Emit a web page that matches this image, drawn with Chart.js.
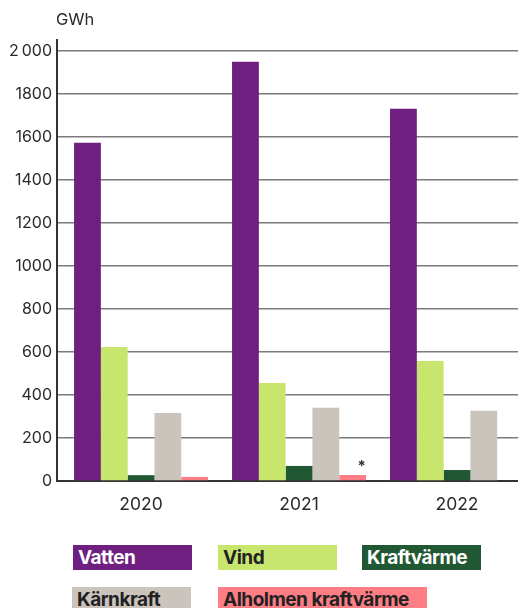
<!DOCTYPE html>
<html>
<head>
<meta charset="utf-8">
<script src="https://cdn.jsdelivr.net/npm/chart.js@4/dist/chart.umd.min.js"></script>
<style>
  html, body { margin:0; padding:0; background:#fff; width:518px; height:608px; overflow:hidden; }
  #wrap { position:absolute; left:0; top:0; width:518px; height:520px; }
  #unit { position:absolute; left:56px; top:9px; font:16.5px Inter, sans-serif; color:#2a2a2a; }
  .lg { position:absolute; height:25px; font:700 19px Inter, sans-serif; letter-spacing:-0.5px; line-height:25px; padding-left:5px; box-sizing:border-box; white-space:nowrap; overflow:hidden; }
</style>
</head>
<body>
<div id="wrap"><canvas id="c"></canvas></div>
<div id="unit">GWh</div>
<div id="legend"></div>
<script>
const categories = ['2020', '2021', '2022'];
const seriesNames = ['Vatten', 'Vind', 'Kraftvärme', 'Kärnkraft', 'Alholmen kraftvärme'];
const vatten = [1572, 1949, 1730];
const vind = [623, 456, 558];
const kraftvarme = [27, 70, 51];
const karnkraft = [316, 340, 326];
const alholmen = [19, 28, null];
const notes = ['', '*', ''];
const yTickLabels = {0:'0',200:'200',400:'400',600:'600',800:'800',1000:'1000',1200:'1200',1400:'1400',1600:'1600',1800:'1800',2000:'2\u2009000'};

const colors = ['#6E1F80', '#C8E66E', '#1F5832', '#CBC4BD', '#FF7E86'];
const textColors = ['#ffffff', '#222222', '#ffffff', '#222222', '#222222'];
const seriesValues = [vatten, vind, kraftvarme, karnkraft, alholmen];

const datasets = seriesNames.map((n, i) => ({
  label: n,
  data: seriesValues[i].map((v, j) => ({x: j, y: v})),
  backgroundColor: colors[i],
  borderWidth: 0,
  categoryPercentage: 0.848,
  barPercentage: 1.0
}));

const notePlugin = {
  id: 'notes',
  afterDatasetsDraw(chart) {
    const meta = chart.getDatasetMeta(4);
    const ctx = chart.ctx;
    ctx.save();
    ctx.fillStyle = '#333';
    ctx.font = '700 15px Inter, sans-serif';
    ctx.textAlign = 'center';
    ctx.textBaseline = 'bottom';
    notes.forEach((t, i) => {
      if (!t) return;
      const el = meta.data[i];
      if (!el) return;
      ctx.fillText(t, el.x + 9, el.y - 1);
    });
    ctx.restore();
  }
};

new Chart(document.getElementById('c'), {
  type: 'bar',
  data: { datasets },
  options: {
    responsive: true,
    maintainAspectRatio: false,
    animation: false,
    layout: { padding: { top: 40, right: 0, left: 0, bottom: 0 } },
    plugins: { legend: { display: false }, tooltip: { enabled: false } },
    scales: {
      x: {
        type: 'linear',
        offset: false,
        min: -0.532,
        max: 2.386,
        grid: { display: false },
        border: { display: true, color: '#333', width: 2 },
        ticks: {
          stepSize: 1,
          includeBounds: false,
          autoSkip: false,
          maxRotation: 0,
          padding: 5,
          color: '#2a2a2a',
          font: { family: 'Inter', size: 17.5 },
          callback: (v) => Number.isInteger(v) ? (categories[v] ?? '') : ''
        },
        afterFit(scale) { scale.height = 39; }
      },
      y: {
        min: 0,
        max: 2050,
        grid: { color: '#7a7a7a', lineWidth: 1.5, drawTicks: false },
        border: { display: true, color: '#333', width: 2 },
        ticks: {
          stepSize: 200,
          includeBounds: false,
          padding: 5,
          color: '#2a2a2a',
          font: { family: 'Inter', size: 16 },
          callback: (v) => yTickLabels[v] ?? ''
        },
        afterFit(scale) { scale.width = 57; }
      }
    }
  },
  plugins: [notePlugin]
});

const legendBoxes = [
  {x:73, y:545, w:119}, {x:218, y:545, w:119}, {x:362, y:545, w:119},
  {x:72, y:587, w:119}, {x:218, y:587, w:209}
];
const lg = document.getElementById('legend');
seriesNames.forEach((n, i) => {
  const d = document.createElement('div');
  d.className = 'lg';
  d.textContent = n;
  d.style.left = legendBoxes[i].x + 'px';
  d.style.top = legendBoxes[i].y + 'px';
  d.style.width = legendBoxes[i].w + 'px';
  d.style.background = colors[i];
  d.style.color = textColors[i];
  lg.appendChild(d);
});
</script>
</body>
</html>
